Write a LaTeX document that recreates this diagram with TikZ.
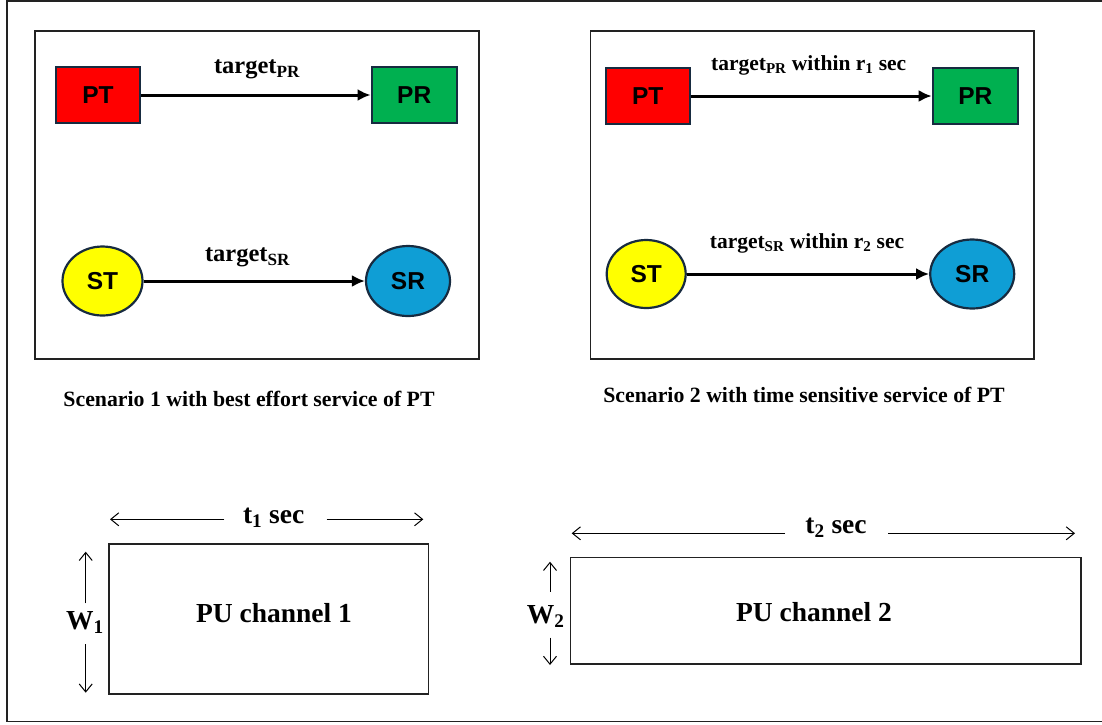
\documentclass[tikz,border=0pt]{standalone}
\usepackage{fontspec}
\setmainfont{Liberation Serif}
\newfontfamily\nodefont{Liberation Sans}
\usetikzlibrary{arrows.meta,shapes.geometric}
\definecolor{ptred}{HTML}{FF0000}
\definecolor{prgreen}{HTML}{00B050}
\definecolor{styellow}{HTML}{FFFF00}
\definecolor{srblue}{HTML}{0F9ED5}
\definecolor{navy}{HTML}{172B40}
\definecolor{framegray}{HTML}{222222}
\tikzset{
  devrect/.style={rectangle, draw=navy, line width=2.2pt, inner sep=0pt, font=\nodefont\bfseries\fontsize{24.5}{28}\selectfont},
  devell/.style={ellipse, draw=navy, line width=2.2pt, inner sep=0pt, font=\nodefont\bfseries\fontsize{24.5}{28}\selectfont},
  flow/.style={line width=3pt, -{Latex[length=13pt,width=12pt]}},
  dimarrow/.style={line width=1pt, -{Straight Barb[length=8pt,width=13pt]}},
  frame/.style={draw=framegray, line width=1.5pt},
  lblA/.style={anchor=base, inner sep=0pt, font=\bfseries\fontsize{24.5}{28}\selectfont},
  lblB/.style={anchor=base, inner sep=0pt, font=\bfseries\fontsize{21.5}{26}\selectfont},
  capt/.style={anchor=base, inner sep=0pt, font=\bfseries\fontsize{21.8}{26}\selectfont},
  big/.style={anchor=base, inner sep=0pt, font=\bfseries\fontsize{27.5}{32}\selectfont},
}
\begin{document}
\begin{tikzpicture}[x=1pt,y=-1pt]
\useasboundingbox (0,0) rectangle (1102,724);
% outer frame
\draw[frame] (1103,1) -- (7,1) -- (7,721.5) -- (1103,721.5);
% scenario boxes
\draw[frame] (35,31) rectangle (479,359);
\draw[frame] (590.7,31) rectangle (1034,359);

% Scenario 1
\node[devrect, fill=ptred, minimum width=84pt, minimum height=56pt] (pt1) at (98,95) {PT};
\node[devrect, fill=prgreen, minimum width=85pt, minimum height=56pt] (pr1) at (414.2,95) {PR};
\node[devell, fill=styellow, minimum width=80pt, minimum height=69pt] (st1) at (102.5,281) {ST};
\node[devell, fill=srblue, minimum width=84pt, minimum height=70pt] (sr1) at (408,281) {SR};
\draw[flow] (pt1) -- (pr1);
\draw[flow] (st1) -- (sr1);
\node[lblA] (l1a) at (257,73.3) {target\textsubscript{PR}};
\node[lblA] (l1b) at (247.5,261.7) {target\textsubscript{SR}};
\node[capt] (cap1) at (249,406.7) {Scenario 1 with best effort service of PT};

% Scenario 2
\node[devrect, fill=ptred, minimum width=84pt, minimum height=56pt] (pt2) at (647.8,96) {PT};
\node[devrect, fill=prgreen, minimum width=85pt, minimum height=56pt] (pr2) at (975.3,96) {PR};
\node[devell, fill=styellow, minimum width=79pt, minimum height=68pt] (st2) at (646.2,274) {ST};
\node[devell, fill=srblue, minimum width=84pt, minimum height=69pt] (sr2) at (972.2,274) {SR};
\draw[flow] (pt2) -- (pr2);
\draw[flow] (st2) -- (sr2);
\node[lblB] (l2a) at (808.7,70) {target\textsubscript{PR} within r\textsubscript{1} sec};
\node[lblB] (l2b) at (807,248) {target\textsubscript{SR} within r\textsubscript{2} sec};
\node[capt] (cap2) at (804,402.3) {Scenario 2 with time sensitive service of PT};

% PU channel 1
\node[frame, rectangle, inner sep=0pt, minimum width=319.3pt, minimum height=150pt] (ch1) at (268.65,619) {};
\node[big] (ch1t) at (274,622.3) {PU channel 1};
\node[big] (t1) at (273.7,523.3) {t\textsubscript{1} sec};
\coordinate (t1a) at (224.3,519.3);
\coordinate (t1b) at (110,519.3);
\coordinate (t1c) at (326.7,519.3);
\coordinate (t1d) at (423.3,519.3);
\draw[dimarrow] (t1a) -- (t1b);
\draw[dimarrow] (t1c) -- (t1d);
\node[big] (w1) at (85,629.3) {W\textsubscript{1}};
\coordinate (w1a) at (85.7,603.3);
\coordinate (w1b) at (85.7,551.7);
\coordinate (w1c) at (85.7,644);
\coordinate (w1d) at (85.7,692.7);
\draw[dimarrow] (w1a) -- (w1b);
\draw[dimarrow] (w1c) -- (w1d);

% PU channel 2
\node[frame, rectangle, inner sep=0pt, minimum width=510.3pt, minimum height=106.3pt] (ch2) at (825.85,610.85) {};
\node[big] (ch2t) at (814,621) {PU channel 2};
\node[big] (t2) at (836,533.3) {t\textsubscript{2} sec};
\coordinate (t2a) at (785,533.3);
\coordinate (t2b) at (571.7,533.3);
\coordinate (t2c) at (888,533.3);
\coordinate (t2d) at (1075,533.3);
\draw[dimarrow] (t2a) -- (t2b);
\draw[dimarrow] (t2c) -- (t2d);
\node[big] (w2) at (545.7,623.3) {W\textsubscript{2}};
\coordinate (w2a) at (550,591.7);
\coordinate (w2b) at (550,561.7);
\coordinate (w2c) at (550,637.7);
\coordinate (w2d) at (550,665);
\draw[dimarrow] (w2a) -- (w2b);
\draw[dimarrow] (w2c) -- (w2d);
\end{tikzpicture}
\end{document}
